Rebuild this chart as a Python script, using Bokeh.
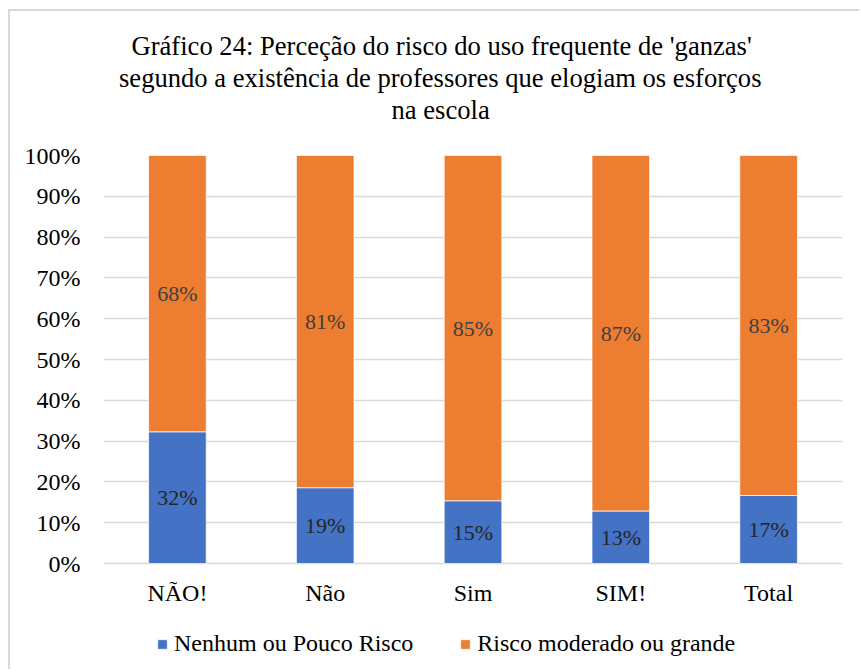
from bokeh.plotting import figure
from bokeh.models import (ColumnDataSource, FixedTicker, NumeralTickFormatter, Range1d,
                          FactorRange, LabelSet, Legend, LegendItem, Title)
from bokeh.embed import file_html
from bokeh.resources import INLINE

categories = ["NÃO!", "Não", "Sim", "SIM!", "Total"]
nenhum = [0.323, 0.186, 0.154, 0.129, 0.167]
moderado = [0.677, 0.814, 0.846, 0.871, 0.833]
series_names = ["Nenhum ou Pouco Risco", "Risco moderado ou grande"]
colors = ["#4472C4", "#ED7D31"]
title_lines = ["Gráfico 24: Perceção do risco do uso frequente de 'ganzas'",
               "segundo a existência de professores que elogiam os esforços",
               "na escola"]
y_ticks = [0, 0.1, 0.2, 0.3, 0.4, 0.5, 0.6, 0.7, 0.8, 0.9, 1.0]

FONT = "Liberation Serif"

src = ColumnDataSource(dict(
    cat=categories,
    base=[0.0] * len(categories),
    nenhum=nenhum,
    moderado=moderado,
    mid1=[v / 2 for v in nenhum],
    mid2=[a + b / 2 for a, b in zip(nenhum, moderado)],
    lab1=[f"{round(v * 100)}%" for v in nenhum],
    lab2=[f"{round(v * 100)}%" for v in moderado],
))

# frame extends below 0 to hold category labels and legend
p = figure(x_range=FactorRange(*categories), y_range=Range1d(-0.257, 1),
           width=851, height=660, output_backend="svg", toolbar_location=None,
           min_border_left=93, min_border_right=19, min_border_top=144,
           min_border_bottom=3)
p.margin = (9, 0, 0, 8)
p.styles = {"border-left": "2px solid #d9d9d9", "border-top": "2px solid #d9d9d9"}
p.outline_line_color = None
p.background_fill_color = "white"
p.border_fill_color = "white"


def style_title(t, offset, standoff):
    t.align = "left"
    t.text_font = FONT
    t.text_font_size = "26.6px"
    t.text_font_style = "normal"
    t.text_color = "#000000"
    t.offset = offset
    t.standoff = standoff


# p.title is the outermost line; added titles stack outward from the frame
p.title.text = title_lines[0]
style_title(p.title, 28, 0)
spacer = Title(text=" ", text_font_size="1px", standoff=28)
p.add_layout(spacer, "above")
t3 = Title(text=title_lines[2])
style_title(t3, 288, 0)
p.add_layout(t3, "above")
t2 = Title(text=title_lines[1])
style_title(t2, 15.5, 0)
p.add_layout(t2, "above")

rs = p.vbar_stack(["nenhum", "moderado"], x="cat", width=0.39, source=src,
                  color=colors, line_color="white", line_width=0.75)

p.add_layout(LabelSet(x="cat", y="mid1", text="lab1", source=src,
                      text_align="center", text_baseline="middle",
                      text_font=FONT, text_font_size="22px", text_color="#262626"))
p.add_layout(LabelSet(x="cat", y="mid2", text="lab2", source=src,
                      text_align="center", text_baseline="middle",
                      text_font=FONT, text_font_size="22px", text_color="#404040"))
# category labels
p.add_layout(LabelSet(x="cat", y="base", text="cat", source=src, y_offset=-29,
                      text_align="center", text_baseline="middle",
                      text_font=FONT, text_font_size="24px", text_color="#000000"))

p.yaxis.ticker = FixedTicker(ticks=y_ticks)
p.yaxis.formatter = NumeralTickFormatter(format="0%")
p.yaxis.axis_line_color = None
p.yaxis.major_tick_line_color = None
p.yaxis.minor_tick_line_color = None
p.yaxis.major_tick_out = 0
p.yaxis.major_tick_in = 0
p.yaxis.major_label_text_font = FONT
p.yaxis.major_label_text_font_size = "24px"
p.yaxis.major_label_text_font_style = "normal"
p.yaxis.major_label_text_color = "#000000"
p.yaxis.major_label_standoff = 23

p.xaxis.visible = False

p.xgrid.grid_line_color = None
p.ygrid.grid_line_color = "#d9d9d9"
p.ygrid.grid_line_width = 1.5
p.ygrid.ticker = FixedTicker(ticks=y_ticks)

items = [LegendItem(label=series_names[i], renderers=[rs[i]]) for i in range(2)]
legend = Legend(items=items, orientation="horizontal", location=(53, 11),
                label_text_font=FONT, label_text_font_size="24px", label_text_color="#000000",
                glyph_width=12, glyph_height=12, label_standoff=6, spacing=46,
                padding=0, margin=0, border_line_color=None,
                background_fill_alpha=0)
p.add_layout(legend, "center")

open("out.html", "w").write(file_html(p, INLINE))
